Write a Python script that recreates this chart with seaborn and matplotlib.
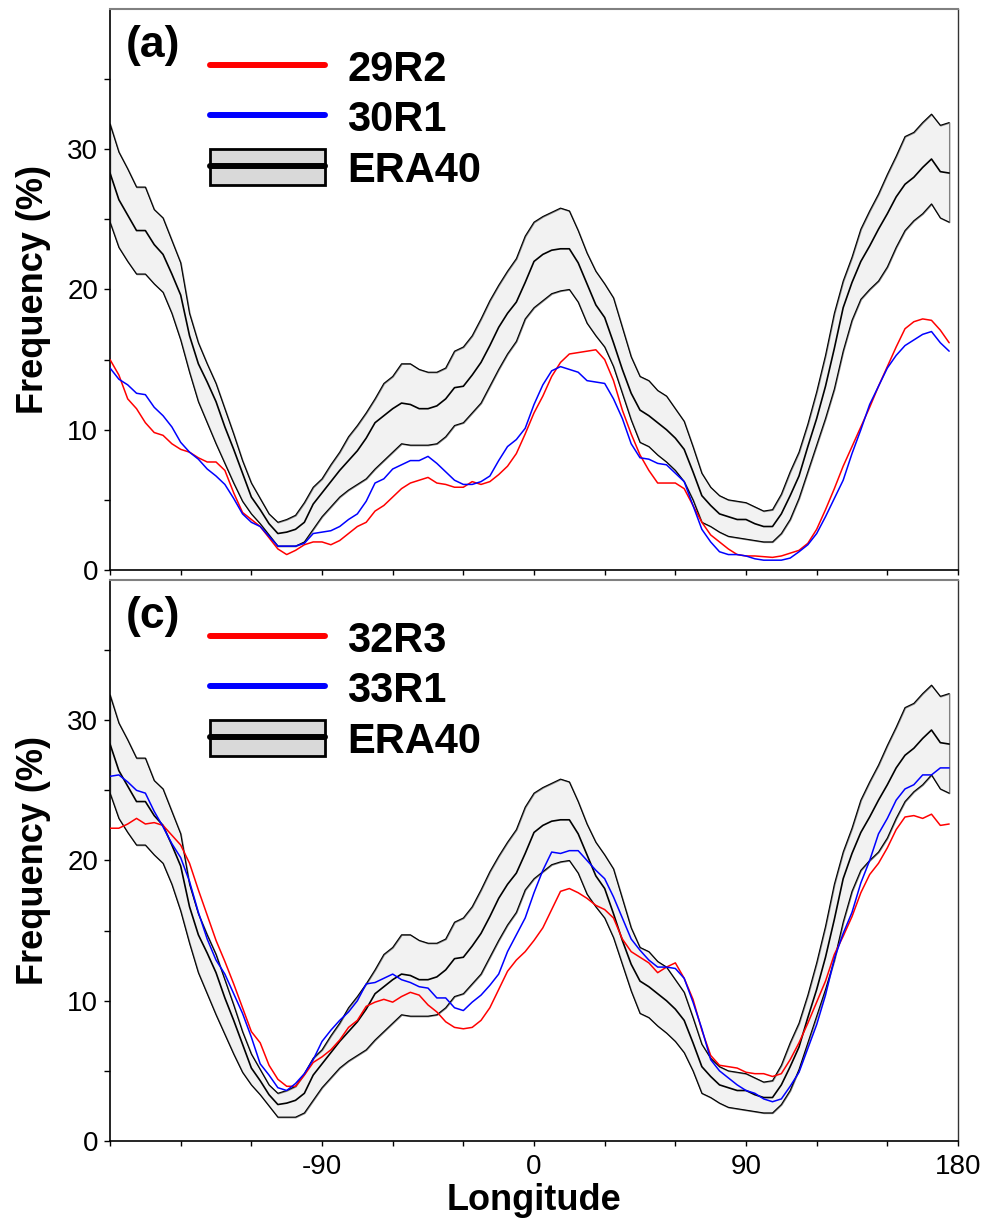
import numpy as np
import pandas as pd
import matplotlib
matplotlib.use("Agg")
import matplotlib.pyplot as plt
import seaborn as sns
from matplotlib.lines import Line2D
from matplotlib.patches import Patch
from matplotlib.legend_handler import HandlerTuple
from matplotlib.ticker import MultipleLocator, FixedLocator

# ---------------- data ----------------
# longitude grid (3.75 degree spacing, -180 .. 176.25)
lon = np.arange(-180.0, 180.0, 3.75)

era_hi = [31.8, 29.8, 28.6, 27.3, 27.3, 25.7, 25.1, 23.5, 21.9,
          18.3, 16.2, 14.7, 13.3, 11.5, 9.7, 7.8, 6.2, 5.1, 4.0, 3.4, 3.6,
          3.9, 4.8, 5.9, 6.5, 7.5, 8.4, 9.5, 10.3, 11.2, 12.2, 13.3, 13.8,
          14.7, 14.7, 14.3, 14.1, 14.1, 14.4, 15.6, 15.9, 16.7, 17.9, 19.2, 20.3,
          21.3, 22.2, 23.8, 24.8, 25.2, 25.5, 25.8, 25.6, 24.2, 22.6, 21.3, 20.4,
          19.4, 17.3, 15.2, 13.8, 13.5, 12.8, 12.4, 11.5, 10.6, 8.8, 6.9, 5.9,
          5.3, 5.0, 4.9, 4.8, 4.5, 4.2, 4.3, 5.4, 7.0, 8.4, 10.4, 12.7,
          15.3, 18.3, 20.6, 22.3, 24.3, 25.6, 26.8, 28.2, 29.5, 30.9, 31.2, 31.9, 32.5, 31.7, 31.9]

era_mean = [28.3, 26.4, 25.3, 24.2, 24.2, 23.2, 22.5, 21.1, 19.6,
            16.7, 14.7, 13.4, 12.0, 10.2, 8.6, 6.9, 5.2, 4.3, 3.3, 2.6, 2.7,
            2.9, 3.4, 4.7, 5.5, 6.3, 7.1, 7.8, 8.5, 9.4, 10.5, 11.0, 11.5,
            11.9, 11.8, 11.5, 11.5, 11.7, 12.2, 13.0, 13.1, 13.9, 14.8, 16.0, 17.3,
            18.3, 19.1, 20.5, 22.0, 22.5, 22.8, 22.9, 22.9, 21.9, 20.4, 18.9, 18.0,
            16.2, 14.3, 12.6, 11.4, 11.0, 10.5, 10.0, 9.4, 8.6, 7.0, 5.3, 4.6,
            4.0, 3.8, 3.6, 3.6, 3.3, 3.1, 3.1, 4.0, 5.3, 6.7, 8.8, 10.8,
            13.1, 15.8, 18.7, 20.5, 22.0, 23.1, 24.3, 25.4, 26.6, 27.5, 28.0, 28.7, 29.3, 28.4, 28.3]

era_lo = [24.8, 23.0, 22.0, 21.1, 21.1, 20.4, 19.8, 18.3, 16.4,
          14.1, 12.0, 10.5, 9.0, 7.6, 6.2, 4.9, 4.0, 3.3, 2.5, 1.7, 1.7,
          1.7, 2.0, 2.9, 3.8, 4.5, 5.2, 5.7, 6.1, 6.5, 7.2, 7.8, 8.4,
          9.0, 8.9, 8.9, 8.9, 9.0, 9.5, 10.3, 10.5, 11.2, 11.9, 13.1, 14.3,
          15.4, 16.3, 17.9, 18.7, 19.2, 19.7, 19.9, 20.0, 19.1, 17.6, 16.7, 15.9,
          14.5, 12.6, 10.7, 9.1, 8.8, 8.2, 7.7, 7.1, 6.3, 5.0, 3.4, 3.1,
          2.7, 2.4, 2.3, 2.2, 2.1, 2.0, 2.0, 2.6, 3.6, 5.1, 7.0, 8.9,
          10.8, 12.9, 15.6, 17.8, 19.3, 20.0, 20.6, 21.6, 23.0, 24.2, 24.9, 25.4, 26.1, 25.1, 24.8]

cy29r2 = [15.0, 13.9, 12.2, 11.5, 10.5, 9.8, 9.6, 9.0, 8.6,
          8.4, 8.0, 7.7, 7.7, 7.1, 5.5, 4.1, 3.6, 3.1, 2.3, 1.5, 1.1,
          1.4, 1.8, 2.0, 2.0, 1.8, 2.1, 2.6, 3.1, 3.4, 4.2, 4.6, 5.2,
          5.8, 6.2, 6.4, 6.6, 6.2, 6.1, 5.9, 5.9, 6.3, 6.1, 6.3, 6.8,
          7.4, 8.3, 9.7, 11.2, 12.4, 13.8, 14.8, 15.4, 15.5, 15.6, 15.7, 15.0,
          13.5, 11.4, 9.7, 8.2, 7.1, 6.2, 6.2, 6.2, 5.8, 4.6, 3.4, 2.5,
          2.0, 1.5, 1.1, 1.0, 1.0, 0.95, 0.9, 1.0, 1.2, 1.4, 1.9, 2.9,
          4.3, 5.8, 7.4, 8.8, 10.2, 11.6, 13.1, 14.5, 15.9, 17.2, 17.7, 17.9, 17.8, 17.1, 16.2]

cy30r1 = [14.4, 13.6, 13.2, 12.6, 12.5, 11.6, 11.0, 10.2, 9.1,
          8.4, 7.9, 7.2, 6.7, 6.1, 5.1, 4.0, 3.4, 3.1, 2.4, 1.7, 1.7,
          1.7, 1.9, 2.6, 2.7, 2.8, 3.1, 3.6, 4.0, 4.9, 6.2, 6.5, 7.2,
          7.5, 7.8, 7.8, 8.1, 7.6, 7.0, 6.4, 6.1, 6.1, 6.3, 6.7, 7.8,
          8.8, 9.3, 10.1, 11.8, 13.2, 14.2, 14.5, 14.3, 14.1, 13.5, 13.4, 13.3,
          12.2, 10.8, 9.0, 8.0, 7.9, 7.6, 7.5, 6.9, 6.3, 4.6, 2.9, 2.0,
          1.3, 1.1, 1.1, 1.0, 0.8, 0.7, 0.7, 0.7, 0.85, 1.3, 1.8, 2.6,
          3.8, 5.1, 6.4, 8.3, 10.0, 11.8, 13.1, 14.4, 15.3, 16.0, 16.4, 16.8, 17.0, 16.2, 15.6]

cy32r3 = [22.3, 22.3, 22.6, 23.0, 22.6, 22.7, 22.5, 21.8, 21.1,
          19.8, 17.9, 16.1, 14.3, 12.8, 11.2, 9.5, 7.8, 7.0, 5.4, 4.4, 3.9,
          3.9, 4.7, 5.6, 6.0, 6.5, 7.2, 8.1, 8.6, 9.6, 9.9, 10.1, 9.9,
          10.3, 10.6, 10.4, 9.7, 9.2, 8.5, 8.1, 8.0, 8.1, 8.6, 9.5, 10.8,
          12.1, 12.9, 13.5, 14.3, 15.2, 16.5, 17.8, 18.0, 17.7, 17.3, 16.8, 16.5,
          15.9, 14.4, 13.5, 13.1, 12.7, 12.0, 12.4, 12.7, 11.6, 10.1, 7.9, 6.1,
          5.4, 5.3, 5.2, 4.9, 4.8, 4.8, 4.6, 4.8, 5.8, 7.0, 8.4, 9.9,
          11.4, 13.3, 14.6, 16.0, 17.7, 19.0, 19.8, 20.9, 22.2, 23.1, 23.2, 23.0, 23.3, 22.5, 22.6]

cy33r1 = [26.0, 26.1, 25.6, 25.0, 24.8, 23.5, 22.4, 21.2, 20.2,
          18.5, 16.3, 14.4, 12.9, 11.9, 10.5, 9.1, 7.4, 5.5, 4.7, 3.8, 3.6,
          4.1, 4.8, 5.8, 7.1, 7.9, 8.6, 9.2, 10.0, 11.2, 11.3, 11.6, 11.9,
          11.5, 11.3, 11.0, 10.9, 10.2, 10.2, 9.5, 9.3, 9.9, 10.4, 11.1, 11.9,
          13.5, 14.7, 15.9, 17.7, 19.3, 20.6, 20.5, 20.7, 20.7, 20.0, 19.3, 18.7,
          17.4, 15.9, 14.4, 13.6, 12.9, 12.4, 12.4, 12.3, 11.6, 9.9, 8.0, 5.8,
          5.0, 4.5, 4.0, 3.6, 3.4, 3.0, 2.8, 3.0, 3.9, 4.9, 6.6, 8.3,
          10.4, 13.0, 14.8, 16.3, 18.4, 20.0, 21.9, 23.0, 24.3, 25.1, 25.4, 26.1, 26.1, 26.6, 26.6]

panels = [
    {"tag": "(a)", "red": cy29r2, "blue": cy30r1, "labels": ["29R2", "30R1", "ERA40"]},
    {"tag": "(c)", "red": cy32r3, "blue": cy33r1, "labels": ["32R3", "33R1", "ERA40"]},
]
xticks_major = [-90, 0, 90, 180]
yticks_major = [0, 10, 20, 30]
yticks_minor = [5, 15, 25, 35]

# ---------------- style ----------------
sns.set_theme(style="ticks")
plt.rcParams["font.family"] = ["Liberation Sans", "DejaVu Sans"]
plt.rcParams["axes.unicode_minus"] = False
plt.rcParams["text.color"] = "black"
plt.rcParams["axes.labelcolor"] = "black"
plt.rcParams["xtick.color"] = "black"
plt.rcParams["ytick.color"] = "black"

fig = plt.figure(figsize=(9.86, 12.25), dpi=100)
axes = [fig.add_axes([0.1116, 0.5347, 0.8600, 0.4580]),
        fig.add_axes([0.1116, 0.06857, 0.8600, 0.4580])]

for k, (ax, p) in enumerate(zip(axes, panels)):
    ax.fill_between(lon, era_lo, era_hi, facecolor="#f2f2f2",
                    edgecolor="#808080", linewidth=1.0, zorder=1)
    sns.lineplot(x=lon, y=era_hi, ax=ax, color="black", lw=0.8, zorder=2, legend=False)
    sns.lineplot(x=lon, y=era_lo, ax=ax, color="black", lw=0.8, zorder=2, legend=False)
    sns.lineplot(x=lon, y=era_mean, ax=ax, color="black", lw=1.2, zorder=3, legend=False)
    sns.lineplot(x=lon, y=p["red"], ax=ax, color="#ff0000", lw=1.1, zorder=4, legend=False)
    sns.lineplot(x=lon, y=p["blue"], ax=ax, color="#0000ff", lw=1.1, zorder=5, legend=False)

    ax.set_xlim(-180, 180)
    ax.set_ylim(0, 40)
    ax.xaxis.set_major_locator(FixedLocator(xticks_major))
    ax.xaxis.set_minor_locator(MultipleLocator(30))
    ax.yaxis.set_major_locator(FixedLocator(yticks_major))
    ax.yaxis.set_minor_locator(FixedLocator(yticks_minor))
    ax.tick_params(axis="x", which="both", direction="out", length=3.5, width=1.0,
                   color="black", labelsize=20, labelcolor="black", pad=6)
    ax.tick_params(axis="y", which="both", direction="out", length=4.5, width=1.0,
                   color="black", labelsize=20, labelcolor="black", pad=4)
    ax.set_ylabel("Frequency (%)", fontsize=26, fontweight="bold", labelpad=12, color="black")
    ax.set_xlabel("")
    if k == 0:
        ax.tick_params(axis="x", labelbottom=False)
    else:
        ax.set_xlabel("Longitude", fontsize=26, fontweight="bold", labelpad=2, color="black")

    for side in ["left", "bottom"]:
        ax.spines[side].set_color("black")
        ax.spines[side].set_linewidth(1.2)
    ax.spines["right"].set_color("#333333")
    ax.spines["right"].set_linewidth(1.0)
    ax.spines["top"].set_color("#808080")
    ax.spines["top"].set_linewidth(1.5)

    ax.text(0.018, 0.972, p["tag"], transform=ax.transAxes, ha="left", va="top",
            fontsize=32, fontweight="bold", color="black")

    handles = [Line2D([], [], color="#ff0000", lw=4.3),
               Line2D([], [], color="#0000ff", lw=4.3),
               (Patch(facecolor="#d9d9d9", edgecolor="black", lw=2.0),
                Line2D([], [], color="black", lw=4.3))]
    leg = ax.legend(handles, p["labels"], handler_map={tuple: HandlerTuple(ndivide=1, pad=0)},
                    loc="upper left", bbox_to_anchor=(0.118, 0.929), frameon=False,
                    borderpad=0, borderaxespad=0, handlelength=2.76, handleheight=0.94,
                    handletextpad=0.53, labelspacing=0.22,
                    prop={"weight": "bold", "size": 30})
    for t in leg.get_texts():
        t.set_color("black")

fig.savefig("out.png", dpi=100, facecolor="white")
